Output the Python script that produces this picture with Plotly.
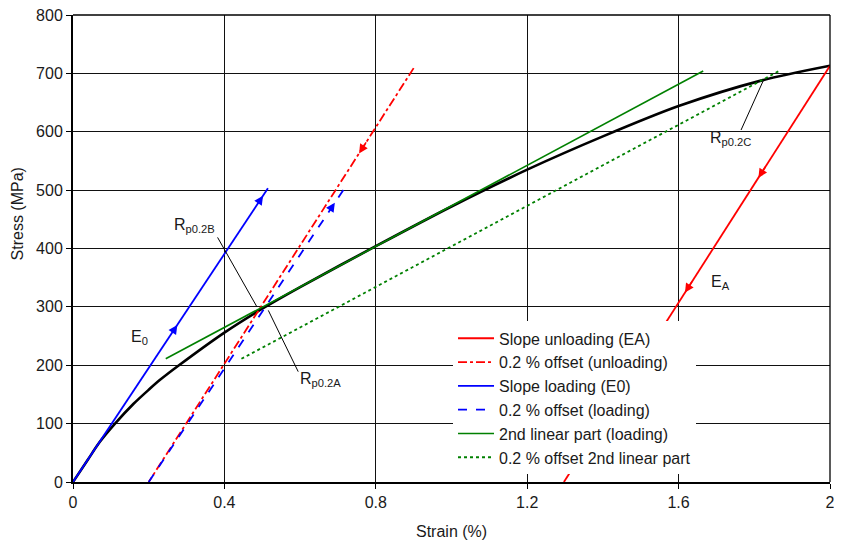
import plotly.graph_objects as go

# Data
curve_strain = [0, 0.04, 0.07, 0.111, 0.16, 0.20, 0.23, 0.28, 0.40, 0.50, 0.60, 0.80, 1.00, 1.20, 1.40, 1.60, 1.82, 2.00]
curve_stress = [0, 39, 68, 100, 134, 158, 175, 200, 256, 297, 334, 404, 472, 535, 592, 644, 688, 713]

ea_strain = [2.00, 1.297]          # slope unloading (EA)
ea_stress = [713, 0]
ea_off_strain = [0.90, 0.20]       # 0.2 % offset (unloading)
ea_off_stress = [709, 0]
e0_strain = [0.0, 0.515]           # slope loading (E0)
e0_stress = [0, 503]
e0_off_strain = [0.20, 0.716]      # 0.2 % offset (loading)
e0_off_stress = [0, 502]
lin2_strain = [0.245, 1.665]       # 2nd linear part
lin2_stress = [211, 704]
lin2_off_strain = [0.445, 1.865]   # 0.2 % offset 2nd linear part
lin2_off_stress = [211, 704]

x_ticks = [0, 0.4, 0.8, 1.2, 1.6, 2]
x_tick_labels = ["0", "0.4", "0.8", "1.2", "1.6", "2"]
y_ticks = [0, 100, 200, 300, 400, 500, 600, 700, 800]

RED = "#ff0000"
BLUE = "#0000ff"
GREEN = "#008000"
FONT = "Liberation Sans, Arial, sans-serif"
TXT = "#1a1a1a"
FS = 16

fig = go.Figure()

fig.add_trace(go.Scatter(x=curve_strain, y=curve_stress, mode="lines",
                         line=dict(color="black", width=2.6, shape="spline", smoothing=0.8),
                         showlegend=False, hoverinfo="skip"))
fig.add_trace(go.Scatter(x=ea_strain, y=ea_stress, mode="lines", name="Slope unloading (EA)",
                         line=dict(color=RED, width=1.8)))
fig.add_trace(go.Scatter(x=ea_off_strain, y=ea_off_stress, mode="lines", name="0.2 % offset (unloading)",
                         line=dict(color=RED, width=1.8, dash="dashdot")))
fig.add_trace(go.Scatter(x=e0_strain, y=e0_stress, mode="lines", name="Slope loading (E0)",
                         line=dict(color=BLUE, width=1.8)))
fig.add_trace(go.Scatter(x=e0_off_strain, y=e0_off_stress, mode="lines", name="0.2 % offset (loading)",
                         line=dict(color=BLUE, width=1.8, dash="dash")))
fig.add_trace(go.Scatter(x=lin2_strain, y=lin2_stress, mode="lines", name="2nd linear part (loading)",
                         line=dict(color=GREEN, width=1.6)))
fig.add_trace(go.Scatter(x=lin2_off_strain, y=lin2_off_stress, mode="lines", name="0.2 % offset 2nd linear part",
                         line=dict(color=GREEN, width=1.8, dash="dot")))

# Pointer lines for R labels
pointer_lines = [
    ([0.382, 0.486], [419, 300]),
    ([0.516, 0.595], [294, 189]),
    ([1.765, 1.824], [603, 688]),
]
for px, py in pointer_lines:
    fig.add_trace(go.Scatter(x=px, y=py, mode="lines", line=dict(color="black", width=1),
                             showlegend=False, hoverinfo="skip"))

annotations = []
# direction arrows placed at fractions along the lines
arrow_specs = [
    (e0_strain, e0_stress, 0.535, BLUE),
    (e0_strain, e0_stress, 0.975, BLUE),
    (e0_off_strain, e0_off_stress, 0.953, BLUE),
    (ea_off_strain, ea_off_stress, 0.206, RED),
    (ea_strain, ea_stress, 0.269, RED),
    (ea_strain, ea_stress, 0.545, RED),
]
for xs, ys, t, col in arrow_specs:
    hx = xs[0] + (xs[1] - xs[0]) * t
    hy = ys[0] + (ys[1] - ys[0]) * t
    tx = xs[0] + (xs[1] - xs[0]) * (t - 0.03)
    ty = ys[0] + (ys[1] - ys[0]) * (t - 0.03)
    annotations.append(dict(x=hx, y=hy, ax=tx, ay=ty, xref="x", yref="y", axref="x", ayref="y",
                            text="", showarrow=True, arrowhead=2, arrowsize=1.2, arrowwidth=1.5,
                            arrowcolor=col, standoff=0))

labels = [
    ("R<sub>p0.2B</sub>", 0.32, 440),
    ("R<sub>p0.2A</sub>", 0.655, 175),
    ("R<sub>p0.2C</sub>", 1.736, 589),
    ("E<sub>0</sub>", 0.177, 247),
    ("E<sub>A</sub>", 1.712, 342),
]
for txt, lx, ly in labels:
    annotations.append(dict(x=lx, y=ly, xref="x", yref="y", text=txt, showarrow=False,
                            xanchor="center", yanchor="middle",
                            font=dict(size=FS, color=TXT, family=FONT)))

# axis titles
annotations.append(dict(x=-0.0733, y=0.574, xref="paper", yref="paper", text="Stress (MPa)",
                        xanchor="center", yanchor="middle",
                        textangle=-90, showarrow=False, font=dict(size=FS, color=TXT, family=FONT)))
annotations.append(dict(x=0.5, y=-0.107, xref="paper", yref="paper", text="Strain (%)",
                        xanchor="center", yanchor="middle",
                        showarrow=False, font=dict(size=FS, color=TXT, family=FONT)))

axis_common = dict(showgrid=True, gridcolor="#111111", gridwidth=1, showline=True, linecolor="black",
                   linewidth=2, mirror=False, ticks="outside", ticklen=5, tickcolor="black",
                   zeroline=False, automargin=False, ticklabeloverflow="allow",
                   tickfont=dict(size=FS, color=TXT, family=FONT))

# the page adds an 8 px body margin on top/left, so the figure is made 8 px smaller
fig.update_layout(
    width=834, height=539,
    margin=dict(l=65, r=12, t=7, b=65),
    paper_bgcolor="white", plot_bgcolor="white",
    font=dict(family=FONT, color=TXT),
    xaxis=dict(range=[0, 2], tickvals=x_ticks, ticktext=x_tick_labels, **axis_common),
    yaxis=dict(range=[0, 800], tickvals=y_ticks, **axis_common),
    legend=dict(x=0.502, y=0.344, xanchor="left", yanchor="top", bgcolor="white",
                font=dict(size=FS, color=TXT, family=FONT), tracegroupgap=0,
                itemwidth=36),
    annotations=annotations,
    shapes=[
        dict(type="line", xref="paper", yref="paper", x0=0, x1=1, y0=1, y1=1,
             line=dict(color="black", width=1.3)),
        dict(type="line", xref="paper", yref="paper", x0=1, x1=1, y0=0, y1=1,
             line=dict(color="black", width=1.3)),
    ],
    showlegend=True,
)

fig.write_html("out.html")
